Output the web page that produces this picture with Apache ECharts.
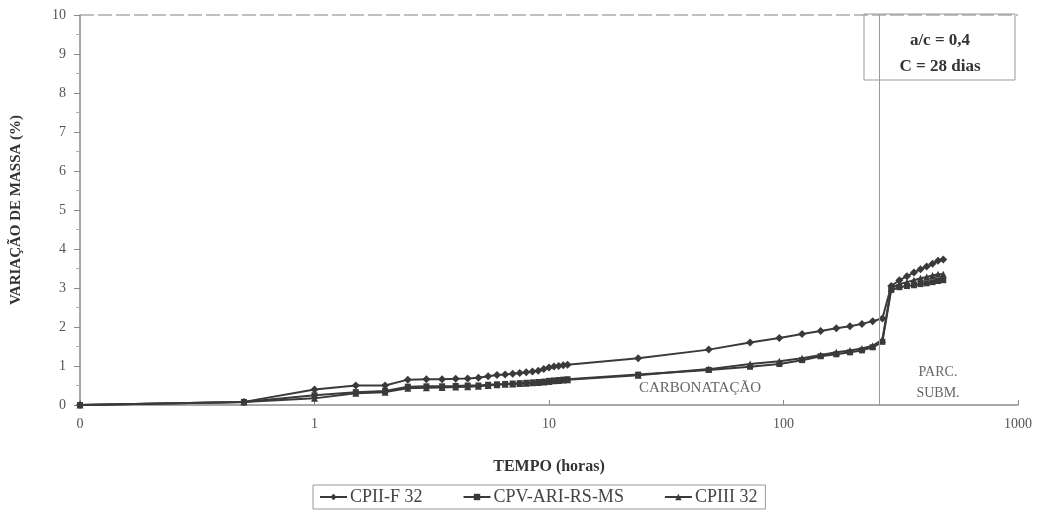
<!DOCTYPE html>
<html>
<head>
<meta charset="utf-8">
<script src="https://cdn.jsdelivr.net/npm/echarts@6/dist/echarts.min.js"></script>
<style>
html,body{margin:0;padding:0;background:#fff;}
#chart{width:1048px;height:524px;}
</style>
</head>
<body>
<div id="chart"></div>
<script>
// Time in hours (0 is drawn at the first decade position, as in the original)
const times = [0, 0.5, 1, 1.5, 2, 2.5, 3, 3.5, 4, 4.5, 5, 5.5, 6, 6.5, 7, 7.5, 8, 8.5, 9, 9.5, 10, 10.5, 11, 11.5, 12,
  24, 48, 72, 96, 120, 144, 168, 192, 216, 240, 264, 288, 312, 336, 360, 384, 408, 432, 456, 480];

const cpiiF = [0, 0.08, 0.40, 0.50, 0.50, 0.65, 0.66, 0.66, 0.67, 0.68, 0.70, 0.74, 0.77, 0.78, 0.80, 0.82, 0.84, 0.86, 0.88, 0.92, 0.96, 0.99, 1.00, 1.02, 1.03,
  1.20, 1.42, 1.60, 1.72, 1.82, 1.90, 1.97, 2.02, 2.08, 2.15, 2.22, 3.05, 3.20, 3.30, 3.40, 3.48, 3.55, 3.62, 3.70, 3.73];

const cpvAri = [0, 0.08, 0.25, 0.33, 0.36, 0.47, 0.48, 0.48, 0.49, 0.50, 0.50, 0.52, 0.53, 0.54, 0.55, 0.56, 0.57, 0.58, 0.59, 0.60, 0.62, 0.63, 0.64, 0.65, 0.66,
  0.78, 0.90, 0.98, 1.05, 1.15, 1.25, 1.30, 1.35, 1.40, 1.48, 1.62, 2.95, 3.02, 3.05, 3.07, 3.10, 3.12, 3.15, 3.18, 3.20];

const cpiii = [0, 0.08, 0.17, 0.30, 0.33, 0.43, 0.44, 0.45, 0.46, 0.47, 0.48, 0.50, 0.52, 0.53, 0.54, 0.55, 0.56, 0.57, 0.58, 0.59, 0.60, 0.62, 0.63, 0.64, 0.65,
  0.76, 0.92, 1.05, 1.12, 1.20, 1.28, 1.35, 1.40, 1.45, 1.52, 1.68, 3.00, 3.10, 3.15, 3.20, 3.25, 3.28, 3.32, 3.35, 3.35];

const seriesNames = ['CPII-F 32', 'CPV-ARI-RS-MS', 'CPIII 32'];
const xTickLabels = {0.1: '0', 1: '1', 10: '10', 100: '100', 1000: '1000'};
const immersionStart = 256; // hours, vertical divider

const toX = t => (t === 0 ? 0.1 : t);
const pairs = vals => times.map((t, i) => [toX(t), vals[i]]);

const serif = '"Liberation Serif", "DejaVu Serif", serif';
const lineColor = '#3a3a3a';

function mkSeries(name, vals, symbol, size) {
  return {
    name: name,
    type: 'line',
    data: pairs(vals),
    symbol: symbol,
    symbolSize: size,
    lineStyle: {color: lineColor, width: 2},
    itemStyle: {color: lineColor},
    emphasis: {disabled: true},
    z: 3
  };
}

const series = [
  mkSeries(seriesNames[0], cpiiF, 'diamond', 8),
  mkSeries(seriesNames[1], cpvAri, 'rect', 6),
  mkSeries(seriesNames[2], cpiii, 'triangle', 7)
];
series[0].markLine = {
  silent: true,
  symbol: 'none',
  label: {show: false},
  lineStyle: {color: '#9a9a9a', width: 1, type: 'solid'},
  data: [{xAxis: immersionStart}]
};

const chart = echarts.init(document.getElementById('chart'), null, {renderer: 'canvas'});
chart.setOption({
  backgroundColor: '#ffffff',
  animation: false,
  grid: {left: 80, right: 30, top: 15, bottom: 119, containLabel: false},
  xAxis: {
    type: 'log',
    logBase: 10,
    min: 0.1,
    max: 1000,
    axisLine: {lineStyle: {color: '#8a8a8a', width: 1.5}},
    axisTick: {show: true, inside: true, length: 5, lineStyle: {color: '#8a8a8a'}},
    axisLabel: {
      color: '#555', fontFamily: serif, fontSize: 14, margin: 12,
      formatter: v => (xTickLabels[v] !== undefined ? xTickLabels[v] : (Math.abs(v - 0.1) < 1e-9 ? '0' : String(v)))
    },
    splitLine: {show: false},
    name: 'TEMPO (horas)',
    nameLocation: 'middle',
    nameGap: 54,
    nameTextStyle: {color: '#333', fontFamily: serif, fontSize: 16, fontWeight: 'bold'}
  },
  yAxis: {
    type: 'value',
    min: 0,
    max: 10,
    interval: 1,
    axisLine: {show: true, lineStyle: {color: '#8a8a8a', width: 1.5}},
    axisTick: {show: true, length: 6, lineStyle: {color: '#8a8a8a'}},
    minorTick: {show: true, splitNumber: 2, length: 4, lineStyle: {color: '#aaa'}},
    axisLabel: {color: '#555', fontFamily: serif, fontSize: 14, margin: 14},
    splitLine: {show: false},
    name: 'VARIAÇÃO DE MASSA (%)',
    nameLocation: 'middle',
    nameGap: 56,
    nameRotate: 90,
    nameTextStyle: {color: '#333', fontFamily: serif, fontSize: 15, fontWeight: 'bold'}
  },
  legend: {
    data: seriesNames,
    left: 313,
    top: 485,
    itemWidth: 27,
    itemHeight: 8,
    itemGap: 40,
    padding: [3, 8, 3, 6],
    borderColor: '#999',
    borderWidth: 1,
    textStyle: {color: '#444', fontFamily: serif, fontSize: 18, padding: [0, 0, 0, -2]},
    selectedMode: false
  },
  series: series,
  graphic: [
    {type: 'line', shape: {x1: 80, y1: 15, x2: 1018, y2: 15}, style: {stroke: '#aaa', lineWidth: 1.5, lineDash: [14, 4]}, silent: true},
    {type: 'rect', shape: {x: 864, y: 14, width: 151, height: 66}, style: {fill: 'none', stroke: '#999', lineWidth: 1}, z: 10},
    {type: 'text', x: 940, y: 41, style: {text: 'a/c = 0,4', fill: '#333', font: 'bold 17px ' + serif, textAlign: 'center', textVerticalAlign: 'middle'}, z: 11},
    {type: 'text', x: 940, y: 67, style: {text: 'C = 28 dias', fill: '#333', font: 'bold 17px ' + serif, textAlign: 'center', textVerticalAlign: 'middle'}, z: 11},
    {type: 'text', x: 700, y: 388, style: {text: 'CARBONATAÇÃO', fill: '#666', font: '15px ' + serif, textAlign: 'center', textVerticalAlign: 'middle'}, z: 5},
    {type: 'text', x: 938, y: 372, style: {text: 'PARC.', fill: '#666', font: '14px ' + serif, textAlign: 'center', textVerticalAlign: 'middle'}, z: 5},
    {type: 'text', x: 938, y: 393, style: {text: 'SUBM.', fill: '#666', font: '14px ' + serif, textAlign: 'center', textVerticalAlign: 'middle'}, z: 5}
  ]
});
</script>
</body>
</html>
